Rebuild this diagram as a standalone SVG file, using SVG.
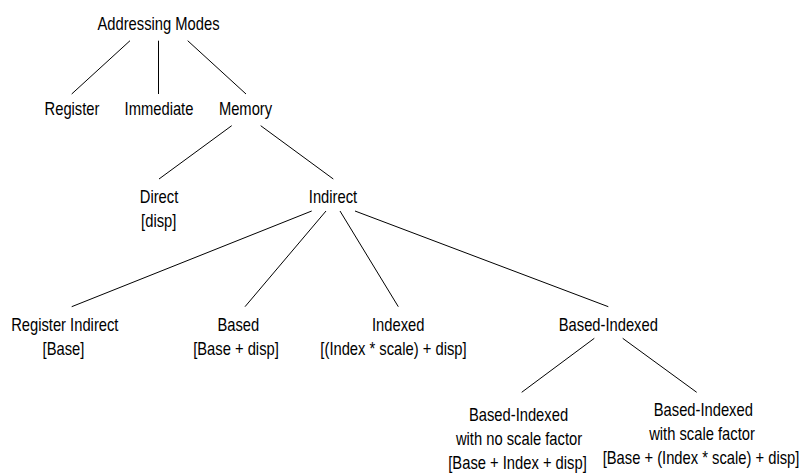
<svg xmlns="http://www.w3.org/2000/svg" width="800" height="474" viewBox="0 0 800 474">
<style>
text{font-family:"Liberation Sans",Arial,sans-serif;font-size:18px;fill:#000;text-anchor:middle}
.c line{stroke:#000;stroke-width:1;fill:none}
</style>
<rect width="800" height="474" fill="#fff"/>
<g class="c" id="connectors">
<line x1="130" y1="40.7" x2="71.7" y2="94"/>
<line x1="158.5" y1="40.7" x2="158.5" y2="94"/>
<line x1="187.7" y1="40.7" x2="246" y2="94"/>
<line x1="231.7" y1="125.7" x2="159" y2="179"/>
<line x1="260.7" y1="125.7" x2="333.3" y2="179"/>
<line x1="311.7" y1="211" x2="71.7" y2="306.7"/>
<line x1="326" y1="211" x2="245" y2="306.7"/>
<line x1="340" y1="211" x2="398.3" y2="306.7"/>
<line x1="355" y1="211" x2="608.3" y2="306.7"/>
<line x1="594.3" y1="338.3" x2="521.7" y2="392.3"/>
<line x1="622.7" y1="338.3" x2="696.7" y2="392.3"/>
</g>
<g id="addressing-modes"><text transform="translate(158.5 30) scale(0.82 1)">Addressing Modes</text></g>
<g id="register"><text transform="translate(72 115) scale(0.82 1)">Register</text></g>
<g id="immediate"><text transform="translate(159 115) scale(0.82 1)">Immediate</text></g>
<g id="memory"><text transform="translate(245.5 115) scale(0.82 1)">Memory</text></g>
<g id="direct"><text transform="translate(159 202.5) scale(0.82 1)">Direct</text><text transform="translate(158.7 226.5) scale(0.82 1)">[disp]</text></g>
<g id="indirect"><text transform="translate(333 202.5) scale(0.82 1)">Indirect</text></g>
<g id="register-indirect"><text transform="translate(64.8 330.5) scale(0.82 1)">Register Indirect</text><text transform="translate(63.5 354.5) scale(0.82 1)">[Base]</text></g>
<g id="based"><text transform="translate(238.3 330.5) scale(0.82 1)">Based</text><text transform="translate(236 354.5) scale(0.82 1)">[Base + disp]</text></g>
<g id="indexed"><text transform="translate(398.2 330.5) scale(0.82 1)">Indexed</text><text transform="translate(393.5 354.5) scale(0.82 1)">[(Index * scale) + disp]</text></g>
<g id="based-indexed"><text transform="translate(608.3 330.5) scale(0.82 1)">Based-Indexed</text></g>
<g id="based-indexed-no-scale"><text transform="translate(518.5 421) scale(0.82 1)">Based-Indexed</text><text transform="translate(519 445) scale(0.82 1)">with no scale factor</text><text transform="translate(517.5 469) scale(0.82 1)">[Base + Index + disp]</text></g>
<g id="based-indexed-scale"><text transform="translate(703.3 416) scale(0.82 1)">Based-Indexed</text><text transform="translate(702 440) scale(0.82 1)">with scale factor</text><text transform="translate(701 464) scale(0.82 1)">[Base + (Index * scale) + disp]</text></g>
</svg>
